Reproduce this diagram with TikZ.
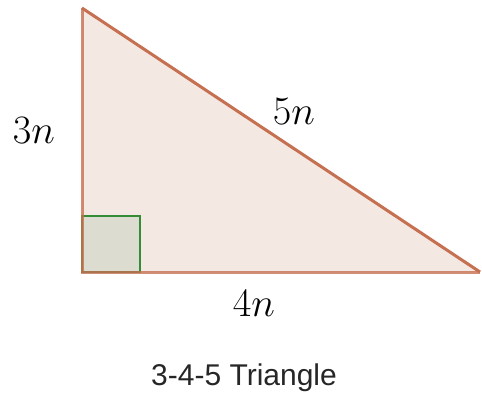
\documentclass[tikz,border=0pt]{standalone}
\usepackage{fontspec}
\setsansfont{Liberation Sans}
\usepackage{amsmath}
\usetikzlibrary{positioning,calc}

\definecolor{edgebrown}{RGB}{198,112,82}
\definecolor{fillpink}{RGB}{244,232,226}
\definecolor{boxgreen}{RGB}{52,140,52}
\definecolor{boxfill}{RGB}{220,221,208}

\newcommand{\sidetext}[1]{\scalebox{1.62}{$#1$}}

\begin{document}
\begin{tikzpicture}[
    x=1pt, y=-1pt,
    tri/.style={draw=edgebrown, line width=3pt, line join=miter},
    rightangle/.style={draw=boxgreen, fill=boxfill, line width=2.4pt},
    sidelabel/.style={font=\fontsize{24.88}{28}\selectfont, inner sep=0pt},
    caption/.style={font=\sffamily\fontsize{30}{34}\selectfont, text=black!85, inner sep=0pt}
]
\useasboundingbox (0,0) rectangle (482,398);

\coordinate (top) at (82,8);
\coordinate (corner) at (82,272);
\coordinate (right) at (480,272);

% triangle body
\fill[fillpink] (top) -- (corner) -- (right) -- cycle;
% right angle mark
\draw[rightangle] (corner) rectangle ++(58,-56);
\draw[tri] (top) -- (right);
\draw[tri, opacity=0.8] (right) -- (corner) -- (top);

\node[sidelabel] (a) at (34,131) {\sidetext{3n}};
\node[sidelabel] (c) at (294,112) {\sidetext{5n}};
\node[sidelabel] (b) at (254,304) {\sidetext{4n}};
\node[caption] (title) at (244,378) {3-4-5 Triangle};

\end{tikzpicture}
\end{document}
